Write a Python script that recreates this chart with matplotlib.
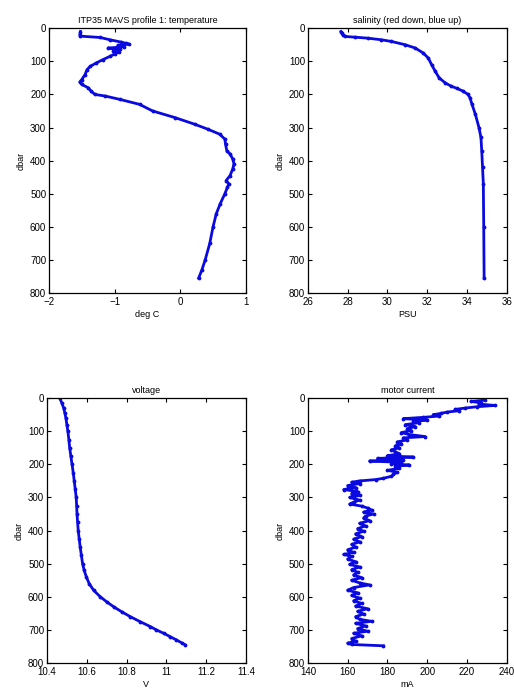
import matplotlib
matplotlib.use("Agg")
import matplotlib.pyplot as plt

# ITP35 MAVS profile 1: four engineering/science profiles vs pressure

temp_p = [10, 20, 24, 28, 35, 42, 46, 48, 52, 56, 60, 64, 68, 72, 78, 85, 95,
          105, 115, 125, 140, 155, 162, 170, 180, 190, 200, 205, 215, 230, 250,
          270, 290, 305, 320, 335, 350, 370, 380, 395, 410, 425, 445, 460, 470,
          480, 500, 530, 560, 600, 650, 700, 730, 755]
temp_c = [-1.52, -1.53, -1.52, -1.22, -1.07, -0.90, -0.82, -0.78, -0.95, -0.86,
          -1.10, -0.92, -1.02, -0.94, -1.00, -1.07, -1.18, -1.28, -1.37, -1.42,
          -1.45, -1.50, -1.53, -1.50, -1.40, -1.36, -1.30, -1.14, -0.92, -0.62,
          -0.42, -0.08, 0.22, 0.42, 0.60, 0.68, 0.69, 0.71, 0.76, 0.80, 0.82,
          0.80, 0.76, 0.70, 0.74, 0.72, 0.68, 0.61, 0.55, 0.50, 0.45, 0.38,
          0.33, 0.28]

sal_p = [10, 15, 20, 25, 27, 30, 35, 40, 50, 60, 75, 90, 110, 130, 150, 165,
         175, 182, 190, 200, 210, 230, 260, 300, 330, 370, 420, 470, 600, 755]
sal_psu = [27.66, 27.70, 27.76, 27.88, 28.35, 29.00, 29.70, 30.20, 30.90, 31.40,
           31.80, 32.05, 32.22, 32.40, 32.60, 32.90, 33.20, 33.50, 33.80, 34.05,
           34.15, 34.25, 34.42, 34.60, 34.70, 34.74, 34.78, 34.82, 34.84, 34.86]

volt_p = [0, 15, 30, 45, 60, 80, 100, 125, 150, 175, 200, 225, 250, 275, 300,
          325, 350, 375, 400, 425, 450, 475, 500, 520, 540, 560, 580, 600, 615,
          630, 645, 660, 675, 690, 700, 710, 720, 730, 740, 745]
volt_v = [10.464, 10.475, 10.484, 10.490, 10.495, 10.500, 10.505, 10.510,
          10.514, 10.520, 10.526, 10.532, 10.537, 10.542, 10.547, 10.549,
          10.551, 10.554, 10.557, 10.562, 10.567, 10.573, 10.579, 10.587,
          10.598, 10.612, 10.634, 10.668, 10.700, 10.735, 10.775, 10.819,
          10.868, 10.920, 10.950, 10.986, 11.018, 11.050, 11.080, 11.095]

mot_p = [2, 6, 10, 14, 18, 22, 26, 30, 34, 38, 42, 46, 50, 54, 58, 62, 66, 70,
         74, 80, 86, 92, 98, 104, 110, 116, 120, 126, 132, 138, 144, 150, 156,
         162, 168, 174, 178, 182, 186, 190, 194, 198, 202, 206, 212, 218, 224,
         230, 236, 242, 246, 250, 254, 258, 264, 270, 276, 282, 288, 294, 300,
         308, 314, 320, 326, 332, 338, 344, 350, 356, 362, 370, 378, 386, 394,
         402, 410, 418, 426, 434, 442, 450, 458, 466, 472, 478, 486, 494, 502,
         510, 518, 526, 534, 542, 550, 558, 564, 572, 580, 588, 596, 604, 612,
         620, 628, 636, 644, 652, 660, 668, 674, 680, 688, 696, 704, 710, 718,
         726, 734, 740, 744, 748]
mot_ma = [228, 229, 222, 227, 226, 234, 225, 219, 214, 216, 210, 207, 203, 206,
          198, 188, 200, 193, 196, 189, 194, 190, 192, 187, 191, 199, 188, 190,
          185, 187, 184, 186, 182, 184, 186, 180, 193, 175, 188, 171, 187, 182,
          191, 184, 186, 180, 185, 183, 182, 178, 174, 166, 162, 166, 160, 164,
          158, 165, 162, 166, 161, 166, 163, 161, 167, 170, 172, 168, 173, 169,
          168, 171, 166, 169, 165, 168, 164, 167, 163, 166, 162, 164, 160, 163,
          158, 162, 160, 164, 161, 166, 162, 165, 163, 167, 162, 166, 171, 163,
          160, 165, 162, 166, 163, 167, 164, 170, 165, 168, 164, 166, 172, 164,
          169, 165, 170, 163, 167, 162, 164, 160, 162, 178]

panels = [
    ("ITP35 MAVS profile 1: temperature", temp_c, temp_p, "deg C",
     (-2, 1), [-2, -1, 0, 1], ["\u22122", "\u22121", "0", "1"]),
    ("salinity (red down, blue up)", sal_psu, sal_p, "PSU",
     (26, 36), [26, 28, 30, 32, 34, 36], None),
    ("voltage", volt_v, volt_p, "V",
     (10.4, 11.4), [10.4, 10.6, 10.8, 11.0, 11.2, 11.4],
     ["10.4", "10.6", "10.8", "11", "11.2", "11.4"]),
    ("motor current", mot_ma, mot_p, "mA",
     (140, 240), [140, 160, 180, 200, 220, 240], None),
]

positions = [
    [0.0953, 0.574, 0.383, 0.385],
    [0.599, 0.574, 0.387, 0.385],
    [0.0914, 0.0363, 0.387, 0.385],
    [0.599, 0.0363, 0.387, 0.385],
]

plt.rcParams["font.family"] = ["Liberation Sans", "DejaVu Sans"]
fig = plt.figure(figsize=(5.14, 6.88), dpi=100)

for pos, (title, x, y, xlabel, xlim, xticks, xticklabels) in zip(positions, panels):
    ax = fig.add_axes(pos)
    ax.plot(x, y, color="#0a0ae0", lw=2.0, marker=".", ms=3.5)
    ax.set_xlim(*xlim)
    ax.set_ylim(800, 0)
    ax.set_xticks(xticks)
    if xticklabels:
        ax.set_xticklabels(xticklabels)
    ax.set_yticks(range(0, 801, 100))
    ax.tick_params(direction="in", length=3, width=0.8, top=True, right=True,
                   labelsize=7, pad=2)
    ax.tick_params(axis="x", pad=3)
    for s in ax.spines.values():
        s.set_linewidth(0.9)
    ax.set_title(title, fontsize=6.5, pad=4)
    ax.set_xlabel(xlabel, fontsize=6.5, labelpad=2)
    ax.set_ylabel("dbar", fontsize=6.5, labelpad=3)

fig.savefig("out.png", dpi=100)
